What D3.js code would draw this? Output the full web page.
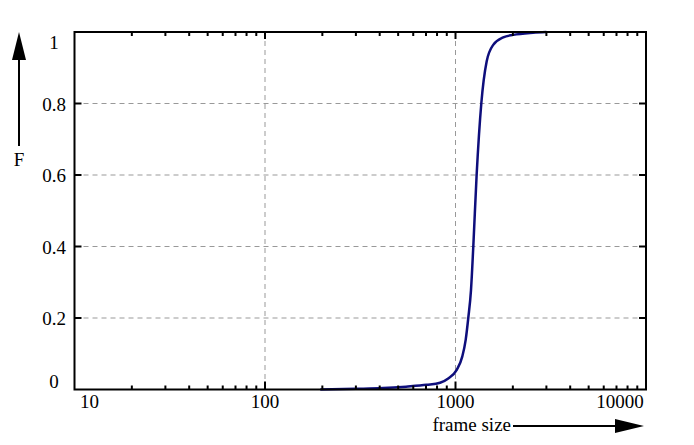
<!DOCTYPE html>
<html>
  <head>
  <title>Frame size CDF</title>
  <style>
    body, html { margin: 0; padding: 0; background: white; }
    text { font-family: "Liberation Serif", "DejaVu Serif", serif; font-size: 19px; fill: black; }
  </style>
  </head>
  <body>
  <svg id="chart" width="694" height="445"></svg>

  <script src="https://d3js.org/d3.v7.min.js"></script>
  <script>
    // frame size (bytes) and cumulative fraction F
    const frameSizes = [195, 300, 416, 550, 706, 830, 916, 1015, 1085, 1131, 1167, 1206, 1240, 1291, 1366, 1458, 1578, 1781, 2011, 2551, 3000]
    const cdfValues  = [0, 0.002, 0.004, 0.008, 0.013, 0.019, 0.031, 0.055, 0.092, 0.139, 0.2, 0.278, 0.40, 0.60, 0.80, 0.918, 0.964, 0.985, 0.992, 0.998, 1.0]

    const xTicks = [10, 100, 1000, 10000]
    const xGrid = [100, 1000]
    const yTicks = [0, 0.2, 0.4, 0.6, 0.8, 1]
    const yGrid = [0.2, 0.4, 0.6, 0.8]

    const pLeft = 74.5, pRight = 646, pTop = 32, pBottom = 389.5

    const svg = d3.select('#chart')

    const x = d3.scaleLog().domain([10, 10000]).range([pLeft, pRight])
    const y = d3.scaleLinear().domain([0, 1]).range([pBottom, pTop])

    // minor ticks 20..90, 200..900, 2000..9000
    const minor = []
    ;[10, 100, 1000].forEach(d => { for (let k = 2; k <= 9; k++) minor.push(d * k) })

    // grid ---------------------------------------------
    svg.append('g').selectAll('line')
      .data(xGrid).join('line')
      .attr('x1', d => x(d)).attr('x2', d => x(d))
      .attr('y1', pTop).attr('y2', pBottom)
      .attr('stroke', '#999').attr('stroke-width', 1).attr('stroke-dasharray', '5,4')

    svg.append('g').selectAll('line')
      .data(yGrid).join('line')
      .attr('x1', pLeft).attr('x2', pRight)
      .attr('y1', d => y(d)).attr('y2', d => y(d))
      .attr('stroke', '#999').attr('stroke-width', 1).attr('stroke-dasharray', '5,4')

    // curve ---------------------------------------------
    const line = d3.line()
      .x((d, i) => x(frameSizes[i]))
      .y(d => y(d))
      .curve(d3.curveMonotoneX)

    svg.append('path')
      .datum(cdfValues)
      .attr('d', line)
      .attr('fill', 'none')
      .attr('stroke', '#0e0e7c')
      .attr('stroke-width', 2.5)

    // frame ---------------------------------------------
    svg.append('rect')
      .attr('x', pLeft).attr('y', pTop)
      .attr('width', pRight - pLeft).attr('height', pBottom - pTop)
      .attr('fill', 'none').attr('stroke', 'black').attr('stroke-width', 2)

    // ticks, all pointing inward
    const ticks = svg.append('g').attr('stroke', 'black').attr('stroke-width', 2)
    const majorX = [100, 1000]
    ticks.selectAll('.xb').data(majorX.concat(minor)).join('line')
      .attr('class', 'xb')
      .attr('x1', d => x(d)).attr('x2', d => x(d))
      .attr('y1', pBottom).attr('y2', d => pBottom - (majorX.includes(d) ? 8 : 4))
    ticks.selectAll('.xt').data(majorX.concat(minor)).join('line')
      .attr('class', 'xt')
      .attr('x1', d => x(d)).attr('x2', d => x(d))
      .attr('y1', pTop).attr('y2', d => pTop + (majorX.includes(d) ? 7 : 4))
    ticks.selectAll('.yl').data(yGrid).join('line')
      .attr('class', 'yl')
      .attr('x1', pLeft).attr('x2', pLeft + 7)
      .attr('y1', d => y(d)).attr('y2', d => y(d))
    ticks.selectAll('.yr').data(yGrid).join('line')
      .attr('class', 'yr')
      .attr('x1', pRight).attr('x2', pRight - 7)
      .attr('y1', d => y(d)).attr('y2', d => y(d))

    // tick labels ---------------------------------------------
    const xShift = d => d === 10 ? 15 : (d === 10000 ? -26 : 0)
    svg.append('g').selectAll('text')
      .data(xTicks).join('text')
      .attr('x', d => x(d) + xShift(d))
      .attr('y', 408)
      .attr('text-anchor', 'middle')
      .text(d => d)

    const yShift = d => d === 0 ? -9 : (d === 1 ? 10 : 0)
    svg.append('g').selectAll('text')
      .data(yTicks).join('text')
      .attr('x', 54)
      .attr('y', d => y(d) + yShift(d) + 7)
      .attr('text-anchor', 'middle')
      .text(d => d)

    // axis labels with arrows ---------------------------------------------
    svg.append('text')
      .attr('x', 19).attr('y', 166)
      .attr('text-anchor', 'middle')
      .text('F')
    svg.append('line')
      .attr('x1', 19).attr('x2', 19).attr('y1', 146).attr('y2', 58)
      .attr('stroke', 'black').attr('stroke-width', 2)
    svg.append('path')
      .attr('d', 'M19,32 L12,60 L26,60 Z')
      .attr('fill', 'black')

    svg.append('text')
      .attr('x', 511).attr('y', 431)
      .attr('text-anchor', 'end')
      .text('frame size')
    svg.append('line')
      .attr('x1', 513).attr('x2', 618).attr('y1', 426).attr('y2', 426)
      .attr('stroke', 'black').attr('stroke-width', 2)
    svg.append('path')
      .attr('d', 'M644,426 L615,419 L615,433 Z')
      .attr('fill', 'black')
  </script>

  </body>
</html>
